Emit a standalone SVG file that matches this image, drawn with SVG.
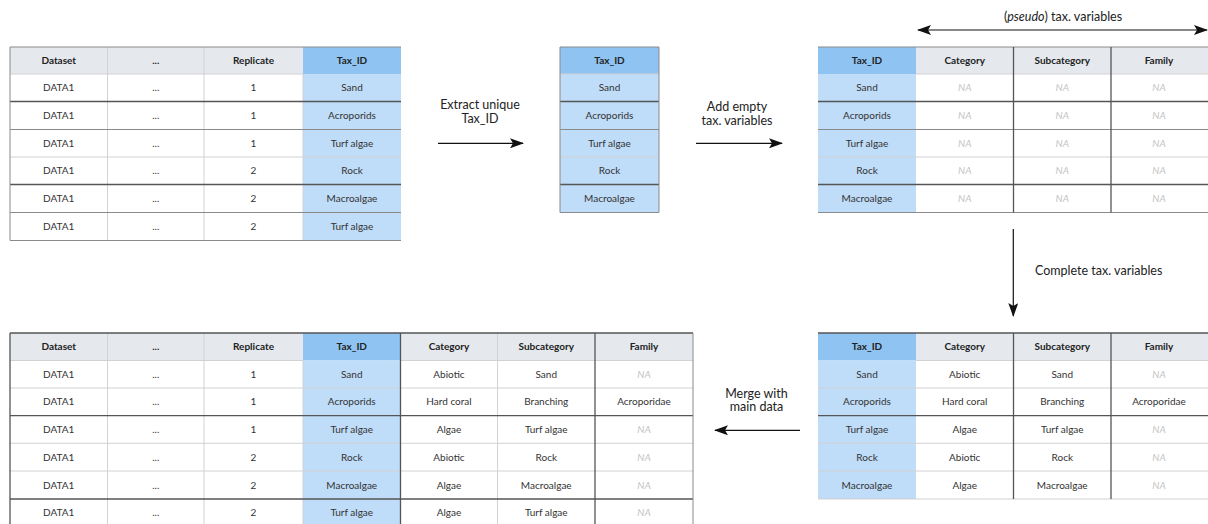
<svg xmlns="http://www.w3.org/2000/svg" width="1208" height="524" viewBox="0 0 1208 524">
<defs>
<marker id="ah" viewBox="0 0 14 10" refX="13" refY="5" markerWidth="14" markerHeight="10" markerUnits="userSpaceOnUse" orient="auto-start-reverse">
<path d="M0,0 L14,5 L0,10 L3,5 Z" fill="#111"/>
</marker>
</defs>
<style>
text{font-family:Lato,"Open Sans","Liberation Sans",sans-serif;fill:#333;text-anchor:middle;font-size:10px}
.h{font-weight:bold;fill:#222}
.na{font-style:italic;fill:#c4c4c4}
.g{fill:#e5e9ee}
.bh{fill:#8fc4f2}
.b{fill:#bfdcf8}
.w{fill:#fff}
.dk{stroke:#555;stroke-width:1.3}
.md{stroke:#8a8a8a;stroke-width:1}
.lt{stroke:#d2d2d2;stroke-width:1}
.lbl{font-size:12.5px;fill:#222;font-family:Lato,"Open Sans","Liberation Sans",sans-serif}
.cn{stroke:#111;stroke-width:1.2;fill:none;marker-end:url(#ah)}
</style>
<rect width="1208" height="524" fill="#fff"/>

<!-- Table 1: main data -->
<g id="table-main">
<rect class="g" x="10" y="47" width="293" height="27"/>
<rect class="bh" x="303" y="47" width="98" height="27"/>
<rect class="w" x="10" y="74" width="293" height="166.5"/>
<rect class="b" x="303" y="74" width="98" height="166.5"/>
<line class="lt" x1="107.5" y1="47" x2="107.5" y2="240.5"/>
<line class="lt" x1="204" y1="47" x2="204" y2="240.5"/>
<line class="lt" x1="303" y1="74" x2="303" y2="240.5"/>
<line class="lt" x1="10" y1="74" x2="303" y2="74"/>
<line class="dk" x1="10" y1="101.5" x2="401" y2="101.5"/>
<line class="md" x1="10" y1="129.5" x2="401" y2="129.5"/>
<line class="lt" x1="10" y1="157" x2="401" y2="157"/>
<line class="dk" x1="10" y1="184.5" x2="401" y2="184.5"/>
<line class="md" x1="10" y1="212.5" x2="401" y2="212.5"/>
<line class="md" x1="10" y1="240.5" x2="401" y2="240.5"/>
<line class="md" x1="10" y1="47" x2="401" y2="47"/>
<line class="md" x1="10" y1="47" x2="10" y2="240.5"/>
<text class="h" x="58.75" y="64">Dataset</text><text class="h" x="155.75" y="64">...</text><text class="h" x="253.5" y="64">Replicate</text><text class="h" x="352" y="64">Tax_ID</text>
<text x="58.75" y="91.3">DATA1</text><text x="155.75" y="91.3">...</text><text x="253.5" y="91.3">1</text><text x="352" y="91.3">Sand</text>
<text x="58.75" y="119">DATA1</text><text x="155.75" y="119">...</text><text x="253.5" y="119">1</text><text x="352" y="119">Acroporids</text>
<text x="58.75" y="146.8">DATA1</text><text x="155.75" y="146.8">...</text><text x="253.5" y="146.8">1</text><text x="352" y="146.8">Turf algae</text>
<text x="58.75" y="174.3">DATA1</text><text x="155.75" y="174.3">...</text><text x="253.5" y="174.3">2</text><text x="352" y="174.3">Rock</text>
<text x="58.75" y="202">DATA1</text><text x="155.75" y="202">...</text><text x="253.5" y="202">2</text><text x="352" y="202">Macroalgae</text>
<text x="58.75" y="230">DATA1</text><text x="155.75" y="230">...</text><text x="253.5" y="230">2</text><text x="352" y="230">Turf algae</text>
</g>

<!-- Table 2: unique Tax_ID -->
<g id="table-unique">
<rect class="bh" x="560" y="47" width="99" height="27"/>
<rect class="b" x="560" y="74" width="99" height="138.5"/>
<line class="lt" x1="560" y1="74" x2="659" y2="74"/>
<line class="dk" x1="560" y1="101.5" x2="659" y2="101.5"/>
<line class="md" x1="560" y1="129.5" x2="659" y2="129.5"/>
<line class="lt" x1="560" y1="157" x2="659" y2="157"/>
<line class="dk" x1="560" y1="184.5" x2="659" y2="184.5"/>
<line class="md" x1="560" y1="212.5" x2="659" y2="212.5"/>
<line class="md" x1="560" y1="47" x2="659" y2="47"/>
<line class="md" x1="560" y1="47" x2="560" y2="212.5"/>
<line class="md" x1="659" y1="47" x2="659" y2="212.5"/>
<text class="h" x="609.5" y="64">Tax_ID</text>
<text x="609.5" y="91.3">Sand</text>
<text x="609.5" y="119">Acroporids</text>
<text x="609.5" y="146.8">Turf algae</text>
<text x="609.5" y="174.3">Rock</text>
<text x="609.5" y="202">Macroalgae</text>
</g>

<!-- Table 3: empty tax variables -->
<g id="table-empty">
<rect class="bh" x="818" y="47" width="98" height="27"/>
<rect class="g" x="916" y="47" width="292" height="27"/>
<rect class="b" x="818" y="74" width="98" height="138.5"/>
<rect class="w" x="916" y="74" width="292" height="138.5"/>
<line class="lt" x1="916" y1="74" x2="1208" y2="74"/>
<line class="dk" x1="818" y1="101.5" x2="1208" y2="101.5"/>
<line class="md" x1="818" y1="129.5" x2="1208" y2="129.5"/>
<line class="lt" x1="818" y1="157" x2="1208" y2="157"/>
<line class="dk" x1="818" y1="184.5" x2="1208" y2="184.5"/>
<line class="md" x1="818" y1="212.5" x2="1208" y2="212.5"/>
<line class="md" x1="818" y1="47" x2="1208" y2="47"/>
<line class="dk" x1="1013.5" y1="47" x2="1013.5" y2="212.5"/>
<line class="dk" x1="1111" y1="47" x2="1111" y2="212.5"/>
<text class="h" x="867" y="64">Tax_ID</text><text class="h" x="964.75" y="64">Category</text><text class="h" x="1062.25" y="64">Subcategory</text><text class="h" x="1159" y="64">Family</text>
<text x="867" y="91.3">Sand</text><text class="na" x="964.75" y="91.3">NA</text><text class="na" x="1062.25" y="91.3">NA</text><text class="na" x="1159" y="91.3">NA</text>
<text x="867" y="119">Acroporids</text><text class="na" x="964.75" y="119">NA</text><text class="na" x="1062.25" y="119">NA</text><text class="na" x="1159" y="119">NA</text>
<text x="867" y="146.8">Turf algae</text><text class="na" x="964.75" y="146.8">NA</text><text class="na" x="1062.25" y="146.8">NA</text><text class="na" x="1159" y="146.8">NA</text>
<text x="867" y="174.3">Rock</text><text class="na" x="964.75" y="174.3">NA</text><text class="na" x="1062.25" y="174.3">NA</text><text class="na" x="1159" y="174.3">NA</text>
<text x="867" y="202">Macroalgae</text><text class="na" x="964.75" y="202">NA</text><text class="na" x="1062.25" y="202">NA</text><text class="na" x="1159" y="202">NA</text>
</g>

<!-- Table 4: completed tax variables -->
<g id="table-complete">
<rect class="bh" x="818" y="333" width="98" height="27.5"/>
<rect class="g" x="916" y="333" width="292" height="27.5"/>
<rect class="b" x="818" y="360.5" width="98" height="138.5"/>
<rect class="w" x="916" y="360.5" width="292" height="138.5"/>
<line class="lt" x1="916" y1="360.5" x2="1208" y2="360.5"/>
<line class="lt" x1="818" y1="388" x2="1208" y2="388"/>
<line class="dk" x1="818" y1="415.7" x2="1208" y2="415.7"/>
<line class="lt" x1="818" y1="443.3" x2="1208" y2="443.3"/>
<line class="lt" x1="818" y1="471" x2="1208" y2="471"/>
<line class="lt" x1="818" y1="499" x2="1208" y2="499"/>
<line class="dk" x1="818" y1="333" x2="1208" y2="333"/>
<line class="dk" x1="1013.5" y1="333" x2="1013.5" y2="499"/>
<line class="dk" x1="1111" y1="333" x2="1111" y2="499"/>
<text class="h" x="867" y="350.2">Tax_ID</text><text class="h" x="964.75" y="350.2">Category</text><text class="h" x="1062.25" y="350.2">Subcategory</text><text class="h" x="1159" y="350.2">Family</text>
<text x="867" y="377.7">Sand</text><text x="964.75" y="377.7">Abiotic</text><text x="1062.25" y="377.7">Sand</text><text class="na" x="1159" y="377.7">NA</text>
<text x="867" y="405.3">Acroporids</text><text x="964.75" y="405.3">Hard coral</text><text x="1062.25" y="405.3">Branching</text><text x="1159" y="405.3">Acroporidae</text>
<text x="867" y="433">Turf algae</text><text x="964.75" y="433">Algae</text><text x="1062.25" y="433">Turf algae</text><text class="na" x="1159" y="433">NA</text>
<text x="867" y="460.7">Rock</text><text x="964.75" y="460.7">Abiotic</text><text x="1062.25" y="460.7">Rock</text><text class="na" x="1159" y="460.7">NA</text>
<text x="867" y="488.5">Macroalgae</text><text x="964.75" y="488.5">Algae</text><text x="1062.25" y="488.5">Macroalgae</text><text class="na" x="1159" y="488.5">NA</text>
</g>

<!-- Table 5: merged data -->
<g id="table-merged">
<rect class="g" x="10" y="333" width="293" height="27.5"/>
<rect class="bh" x="303" y="333" width="97.5" height="27.5"/>
<rect class="g" x="400.5" y="333" width="292.5" height="27.5"/>
<rect class="w" x="10" y="360.5" width="293" height="166"/>
<rect class="b" x="303" y="360.5" width="97.5" height="166"/>
<rect class="w" x="400.5" y="360.5" width="292.5" height="166"/>
<line class="lt" x1="107.5" y1="333" x2="107.5" y2="524"/>
<line class="lt" x1="204" y1="333" x2="204" y2="524"/>
<line class="lt" x1="303" y1="360.5" x2="303" y2="524"/>
<line class="lt" x1="497.5" y1="333" x2="497.5" y2="524"/>
<line class="lt" x1="10" y1="360.5" x2="303" y2="360.5"/>
<line class="lt" x1="400.5" y1="360.5" x2="693" y2="360.5"/>
<line class="lt" x1="10" y1="388" x2="693" y2="388"/>
<line class="dk" x1="10" y1="415.7" x2="693" y2="415.7"/>
<line class="lt" x1="10" y1="443.3" x2="693" y2="443.3"/>
<line class="lt" x1="10" y1="471" x2="693" y2="471"/>
<line class="dk" x1="10" y1="499" x2="693" y2="499"/>
<line class="dk" x1="10" y1="333" x2="693" y2="333"/>
<line class="dk" x1="10" y1="333" x2="10" y2="524"/>
<line class="dk" x1="400.5" y1="333" x2="400.5" y2="524"/>
<line class="dk" x1="595" y1="333" x2="595" y2="524"/>
<line class="md" x1="693" y1="333" x2="693" y2="524"/>
<text class="h" x="58.75" y="350.2">Dataset</text><text class="h" x="155.75" y="350.2">...</text><text class="h" x="253.5" y="350.2">Replicate</text><text class="h" x="351.75" y="350.2">Tax_ID</text><text class="h" x="449" y="350.2">Category</text><text class="h" x="546.25" y="350.2">Subcategory</text><text class="h" x="644" y="350.2">Family</text>
<text x="58.75" y="377.7">DATA1</text><text x="155.75" y="377.7">...</text><text x="253.5" y="377.7">1</text><text x="351.75" y="377.7">Sand</text><text x="449" y="377.7">Abiotic</text><text x="546.25" y="377.7">Sand</text><text class="na" x="644" y="377.7">NA</text>
<text x="58.75" y="405.3">DATA1</text><text x="155.75" y="405.3">...</text><text x="253.5" y="405.3">1</text><text x="351.75" y="405.3">Acroporids</text><text x="449" y="405.3">Hard coral</text><text x="546.25" y="405.3">Branching</text><text x="644" y="405.3">Acroporidae</text>
<text x="58.75" y="433">DATA1</text><text x="155.75" y="433">...</text><text x="253.5" y="433">1</text><text x="351.75" y="433">Turf algae</text><text x="449" y="433">Algae</text><text x="546.25" y="433">Turf algae</text><text class="na" x="644" y="433">NA</text>
<text x="58.75" y="460.7">DATA1</text><text x="155.75" y="460.7">...</text><text x="253.5" y="460.7">2</text><text x="351.75" y="460.7">Rock</text><text x="449" y="460.7">Abiotic</text><text x="546.25" y="460.7">Rock</text><text class="na" x="644" y="460.7">NA</text>
<text x="58.75" y="488.5">DATA1</text><text x="155.75" y="488.5">...</text><text x="253.5" y="488.5">2</text><text x="351.75" y="488.5">Macroalgae</text><text x="449" y="488.5">Algae</text><text x="546.25" y="488.5">Macroalgae</text><text class="na" x="644" y="488.5">NA</text>
<text x="58.75" y="516.2">DATA1</text><text x="155.75" y="516.2">...</text><text x="253.5" y="516.2">2</text><text x="351.75" y="516.2">Turf algae</text><text x="449" y="516.2">Algae</text><text x="546.25" y="516.2">Turf algae</text><text class="na" x="644" y="516.2">NA</text>
</g>

<!-- Connectors -->
<g id="connectors">
<line class="cn" x1="438" y1="143.3" x2="523" y2="143.3"/>
<text class="lbl" x="480" y="109">Extract unique</text>
<text class="lbl" x="480" y="122.5">Tax_ID</text>
<line class="cn" x1="696" y1="143.3" x2="782" y2="143.3"/>
<text class="lbl" x="737" y="111">Add empty</text>
<text class="lbl" x="737" y="124.5">tax. variables</text>
<line class="cn" x1="918" y1="30" x2="1207" y2="30" marker-start="url(#ah)"/>
<text class="lbl" x="1063" y="20.5">(<tspan font-style="italic">pseudo</tspan>) tax. variables</text>
<line class="cn" x1="1013.3" y1="229" x2="1013.3" y2="316"/>
<text class="lbl" x="1035" y="274.5" style="text-anchor:start">Complete tax. variables</text>
<line class="cn" x1="800" y1="430.3" x2="715" y2="430.3"/>
<text class="lbl" x="756.5" y="397.5">Merge with</text>
<text class="lbl" x="756.5" y="411">main data</text>
</g>
</svg>
